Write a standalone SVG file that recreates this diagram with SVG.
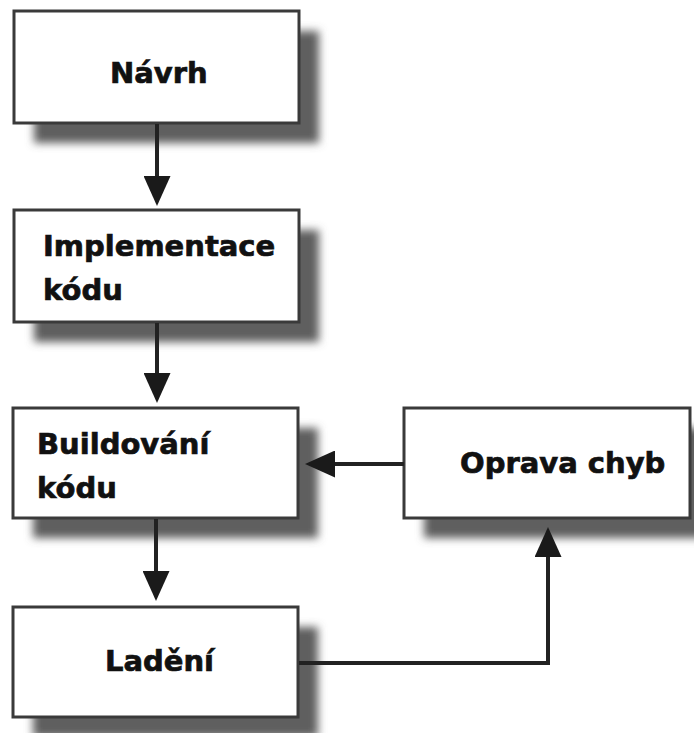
<svg xmlns="http://www.w3.org/2000/svg" width="694" height="733" viewBox="0 0 694 733">
  <style>
    .box { fill: #ffffff; stroke: #3a3a3a; stroke-width: 3; }
    .shadow { fill: #5e5e5e; filter: url(#blur); }
    .label { font-family: "DejaVu Sans", "Liberation Sans", sans-serif; font-weight: bold; font-size: 29px; fill: #111111; stroke: #111111; stroke-width: 0.7; }
    .conn { fill: none; stroke: #222222; stroke-width: 4; }
  </style>
  <defs>
    <filter id="blur" x="-20%" y="-30%" width="140%" height="160%">
      <feGaussianBlur stdDeviation="4"/>
    </filter>
    <marker id="arrow" markerUnits="userSpaceOnUse" markerWidth="30" markerHeight="27" refX="15" refY="13.5" orient="auto">
      <path d="M0,0 L30,13.5 L0,27 Z" fill="#1a1a1a"/>
    </marker>
  </defs>
  <rect x="0" y="0" width="694" height="733" fill="#ffffff"/>

  <g id="navrh">
    <rect class="shadow" x="34" y="31" width="285" height="112"/>
    <rect class="box" x="14" y="11" width="285" height="112"/>
    <text class="label" x="110" y="83">Návrh</text>
  </g>

  <g id="implementace">
    <rect class="shadow" x="34" y="230" width="285" height="112"/>
    <rect class="box" x="14" y="210" width="285" height="112"/>
    <text class="label" x="43" y="256">Implementace</text>
    <text class="label" x="43" y="300">kódu</text>
  </g>

  <g id="buildovani">
    <rect class="shadow" x="33" y="428" width="285" height="110"/>
    <rect class="box" x="13" y="408" width="285" height="110"/>
    <text class="label" x="37" y="454">Buildování</text>
    <text class="label" x="37" y="498">kódu</text>
  </g>

  <g id="ladeni">
    <rect class="shadow" x="33" y="627" width="285" height="110"/>
    <rect class="box" x="13" y="607" width="285" height="110"/>
    <text class="label" x="105" y="671">Ladění</text>
  </g>

  <g id="oprava">
    <rect class="shadow" x="424" y="428" width="286" height="110"/>
    <rect class="box" x="404" y="408" width="286" height="110"/>
    <text class="label" x="460" y="473">Oprava chyb</text>
  </g>

  <g id="connectors">
    <line class="conn" x1="157" y1="124" x2="157" y2="191" marker-end="url(#arrow)"/>
    <line class="conn" x1="157" y1="323" x2="157" y2="388" marker-end="url(#arrow)"/>
    <line class="conn" x1="156" y1="519" x2="156" y2="586" marker-end="url(#arrow)"/>
    <line class="conn" x1="404" y1="464" x2="320" y2="464" marker-end="url(#arrow)"/>
    <polyline class="conn" points="299,663 548,663 548,542" marker-end="url(#arrow)"/>
  </g>
</svg>
